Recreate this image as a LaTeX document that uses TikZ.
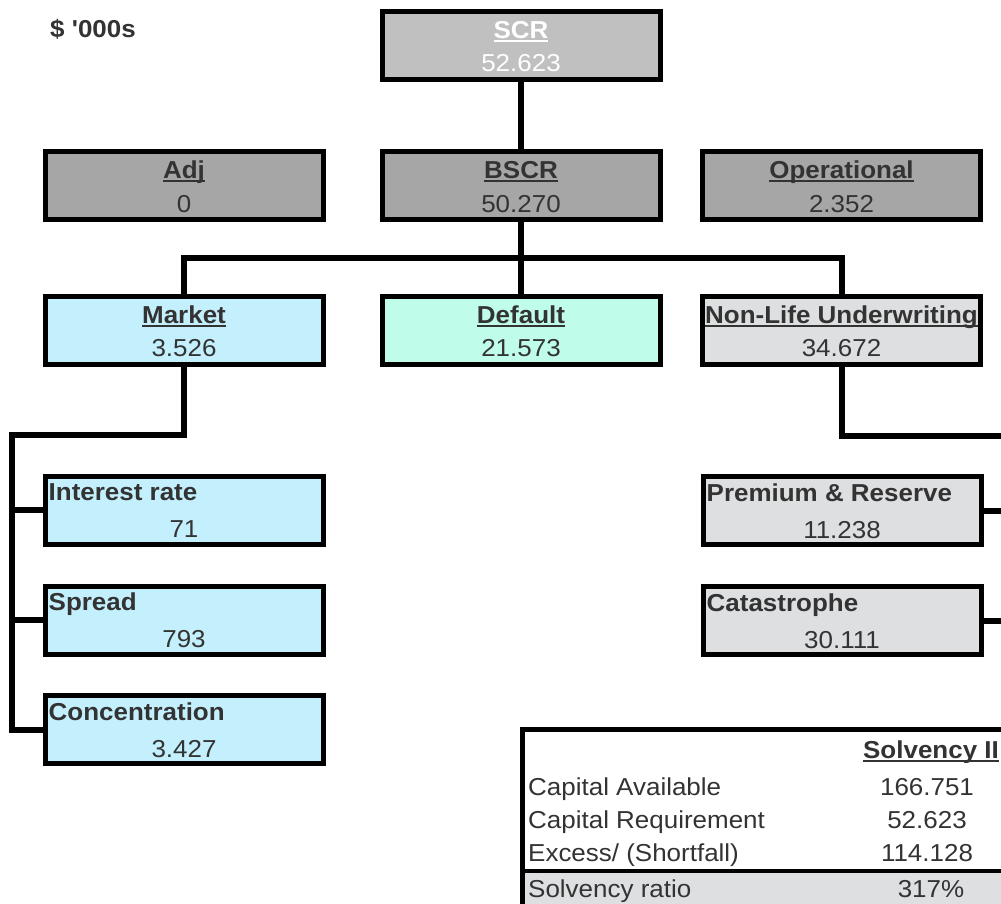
\documentclass[tikz,border=0pt]{standalone}
\usepackage{fontspec}
\setmainfont{Liberation Sans}[FakeStretch=1.06, Ligatures=TeXOff]
\usetikzlibrary{positioning}

\definecolor{txtgrey}{HTML}{333333}
\definecolor{scrgrey}{HTML}{C0C0C0}
\definecolor{midgrey}{HTML}{A6A6A6}
\definecolor{mktblue}{HTML}{C4F0FE}
\definecolor{defgreen}{HTML}{BFFDEA}
\definecolor{nlgrey}{HTML}{DEDFE1}

% underline at a fixed depth, like the spreadsheet does
\newcommand{\ulbox}[1]{\sbox0{#1}\rlap{\rule[-3pt]{\wd0}{2pt}}\usebox0}

\begin{document}
\begin{tikzpicture}[x=1pt, y=-1pt,
	every node/.style={text=txtgrey, inner sep=0pt},
	lbl/.style={font=\fontsize{24.5}{28}\selectfont},
	hd/.style={font=\fontsize{24.5}{28}\selectfont\bfseries},
	riskbox/.style={draw, line width=5pt, minimum width=278pt, minimum height=68pt},
	link/.style={line width=6pt},
]
	\useasboundingbox (0,0) rectangle (1001,904);

	\node[hd, anchor=base west] (unit) at (50,38) {\$ '000s};

	% top levels
	\node[riskbox, fill=scrgrey] (scr) at (521,45.5) {};
	\node[hd, anchor=base, text=white] (scrhd) at ([yshift=6.5pt]scr.center) {\ulbox{SCR}};
	\node[lbl, anchor=base, text=white] (scrval) at ([yshift=-26.5pt]scr.center) {52.623};

	\node[riskbox, fill=midgrey] (adj) at (184,185.5) {};
	\node[hd, anchor=base] (adjhd) at ([yshift=6.5pt]adj.center) {\ulbox{Adj}};
	\node[lbl, anchor=base] (adjval) at ([yshift=-26.5pt]adj.center) {0};

	\node[riskbox, fill=midgrey] (bscr) at (521,185.5) {};
	\node[hd, anchor=base] (bscrhd) at ([yshift=6.5pt]bscr.center) {\ulbox{BSCR}};
	\node[lbl, anchor=base] (bscrval) at ([yshift=-26.5pt]bscr.center) {50.270};

	\node[riskbox, fill=midgrey] (oper) at (841.5,185.5) {};
	\node[hd, anchor=base] (operhd) at ([yshift=6.5pt]oper.center) {\ulbox{Operational}};
	\node[lbl, anchor=base] (operval) at ([yshift=-26.5pt]oper.center) {2.352};

	% modules
	\node[riskbox, fill=mktblue] (market) at (184,330) {};
	\node[hd, anchor=base] (markethd) at ([yshift=6.5pt]market.center) {\ulbox{Market}};
	\node[lbl, anchor=base] (marketval) at ([yshift=-26.5pt]market.center) {3.526};

	\node[riskbox, fill=defgreen] (default) at (521,330) {};
	\node[hd, anchor=base] (defaulthd) at ([yshift=6.5pt]default.center) {\ulbox{Default}};
	\node[lbl, anchor=base] (defaultval) at ([yshift=-26.5pt]default.center) {21.573};

	\node[riskbox, fill=nlgrey] (nonlife) at (841.5,330) {};
	\node[hd, anchor=base] (nonlifehd) at ([yshift=6.5pt]nonlife.center) {\ulbox{Non-Life Underwriting}};
	\node[lbl, anchor=base] (nonlifeval) at ([yshift=-26.5pt]nonlife.center) {34.672};

	% sub-modules
	\node[riskbox, fill=mktblue] (irate) at (184,510) {};
	\node[hd, anchor=base west] (iratehd) at ([xshift=6pt,yshift=9.5pt]irate.west) {Interest rate};
	\node[lbl, anchor=base] (irateval) at ([yshift=-27.5pt]irate.center) {71};

	\node[riskbox, fill=mktblue] (spread) at (184,620) {};
	\node[hd, anchor=base west] (spreadhd) at ([xshift=6pt,yshift=9.5pt]spread.west) {Spread};
	\node[lbl, anchor=base] (spreadval) at ([yshift=-27.5pt]spread.center) {793};

	\node[riskbox, fill=mktblue] (conc) at (184,729.5) {};
	\node[hd, anchor=base west] (conchd) at ([xshift=6pt,yshift=9.5pt]conc.west) {Concentration};
	\node[lbl, anchor=base] (concval) at ([yshift=-27.5pt]conc.center) {3.427};

	\node[riskbox, fill=nlgrey] (prem) at (842,510.5) {};
	\node[hd, anchor=base west] (premhd) at ([xshift=6pt,yshift=9.5pt]prem.west) {Premium \& Reserve};
	\node[lbl, anchor=base] (premval) at ([yshift=-27.5pt]prem.center) {11.238};

	\node[riskbox, fill=nlgrey] (cat) at (842,620.5) {};
	\node[hd, anchor=base west] (cathd) at ([xshift=6pt,yshift=9.5pt]cat.west) {Catastrophe};
	\node[lbl, anchor=base] (catval) at ([yshift=-27.5pt]cat.center) {30.111};

	% connectors
	\coordinate (bus) at (521,258);
	\coordinate (mktbus) at (11.5,435);
	\coordinate (nlbus) at (1008,436);

	\draw[link] (scr) -- (bscr);
	\draw[link] (bscr) -- (default);
	\draw[link] (market.north) -- (market.north |- bus) -- (nonlife.north |- bus) -- (nonlife.north);

	\draw[link] (market.south) |- (mktbus) |- (conc.west);
	\draw[link] (mktbus |- irate.west) -- (irate.west);
	\draw[link] (mktbus |- spread.west) -- (spread.west);

	\draw[link] (nonlife.south) |- (nlbus);
	\draw[link] (prem.east) -- (prem.east -| nlbus);
	\draw[link] (cat.east) -- (cat.east -| nlbus);

	% summary table
	\fill[nlgrey] (522,870.5) rectangle (1006,906);
	\draw[line width=5pt] (522.5,908) -- (522.5,729) -- (1008,729);
	\draw[line width=4pt] (522.5,870.5) -- (1008,870.5);

	\node[hd, anchor=base] (solvhd) at (931,758.5) {\ulbox{Solvency II}};
	\node[lbl, anchor=base west] (avail) at (528,795.5) {Capital Available};
	\node[lbl, anchor=base] (availval) at (927,795.5) {166.751};
	\node[lbl, anchor=base west] (req) at (528,828.5) {Capital Requirement};
	\node[lbl, anchor=base] (reqval) at (927,828.5) {52.623};
	\node[lbl, anchor=base west] (excess) at (528,861.5) {Excess/ (Shortfall)};
	\node[lbl, anchor=base] (excessval) at (927,861.5) {114.128};
	\node[lbl, anchor=base west] (ratio) at (528,897.5) {Solvency ratio};
	\node[lbl, anchor=base] (ratioval) at (931,897.5) {317\%};
\end{tikzpicture}
\end{document}
